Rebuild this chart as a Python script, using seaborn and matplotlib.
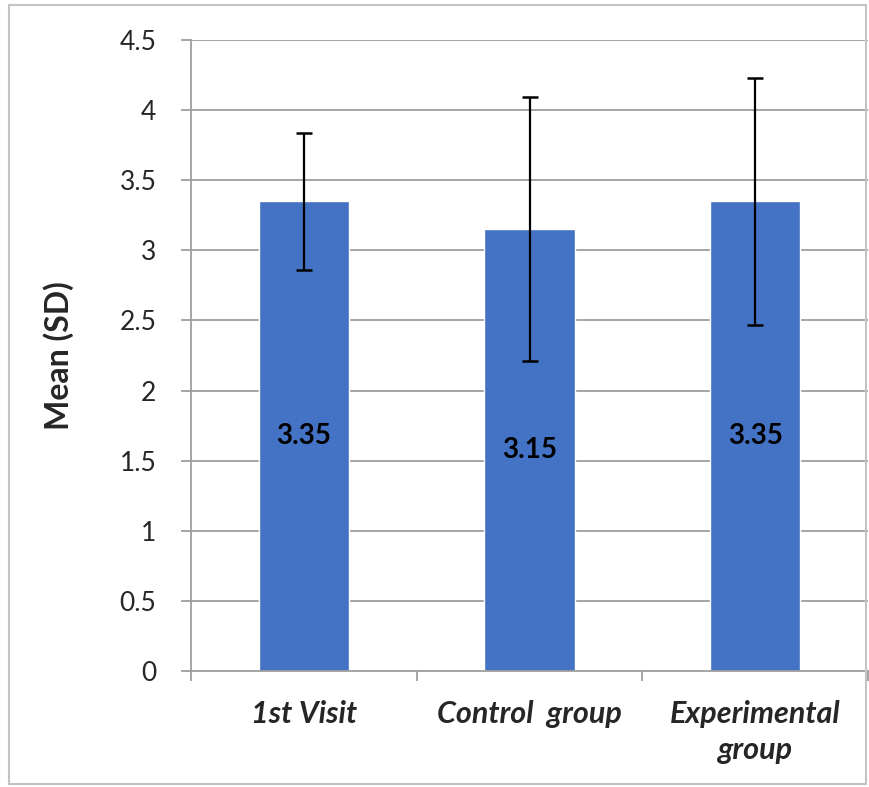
import matplotlib
matplotlib.use("Agg")
import matplotlib.pyplot as plt
import seaborn as sns
import numpy as np
import pandas as pd
from matplotlib.patches import Rectangle

groups = ["1st Visit", "Control  group", "Experimental\ngroup"]
means = [3.35, 3.15, 3.35]
sds = [0.49, 0.94, 0.88]
value_labels = ["3.35", "3.15", "3.35"]
yticks = [0, 0.5, 1, 1.5, 2, 2.5, 3, 3.5, 4, 4.5]
ytick_labels = ["0", "0.5", "1", "1.5", "2", "2.5", "3", "3.5", "4", "4.5"]

df = pd.DataFrame({"group": groups, "mean": means, "sd": sds})

sns.set_theme(style="white")
plt.rcParams["font.family"] = ["Lato", "DejaVu Sans"]

W, H = 869, 787
fig = plt.figure(figsize=(W / 100, H / 100), dpi=100)
ax = fig.add_axes([191 / W, 1 - 671 / H, 677 / W, 631 / H])

grid_c = "#9e9e9e"
ax.set_axisbelow(True)
for y in yticks[1:]:
    ax.axhline(y, color=grid_c, lw=1.3, zorder=0)

sns.barplot(data=df, x="group", y="mean", color="#4472C4", saturation=1,
            width=0.4, errorbar=None, ax=ax, zorder=2)

pos = np.arange(len(groups))
ax.errorbar(pos, df["mean"], yerr=df["sd"], fmt="none", ecolor="black",
            elinewidth=1.6, capsize=5.5, capthick=1.8, zorder=3)

ax.bar_label(ax.containers[0], labels=value_labels, label_type="center",
             fontsize=20, fontweight="bold", color="black")

ax.set_ylim(0, 4.5)
ax.set_xlim(-0.5, 2.5)
ax.set_yticks(yticks)
ax.set_yticklabels(ytick_labels, fontsize=19)
ax.tick_params(axis="y", length=7, width=1.3, color=grid_c, pad=18, left=True)

ax.set_xticks(pos)
ax.set_xticklabels(groups, fontsize=22, fontweight="bold", fontstyle="italic",
                   linespacing=1.35)
ax.tick_params(axis="x", which="major", length=0, pad=21)
ax.set_xticks([-0.5, 0.5, 1.5, 2.5], minor=True)
ax.tick_params(axis="x", which="minor", length=7, width=1.3, color=grid_c,
               bottom=True)
for lbl in ax.get_xticklabels():
    lbl.set_verticalalignment("top")

for s in ["top", "right"]:
    ax.spines[s].set_visible(False)
for s in ["left", "bottom"]:
    ax.spines[s].set_color(grid_c)
    ax.spines[s].set_linewidth(1.3)

ax.set_xlabel("")
ax.set_ylabel("Mean (SD)", fontsize=23, fontweight="bold")
ax.yaxis.set_label_coords((74 - 191) / 677, 0.5)

fig.patches.append(Rectangle((9 / W, 1 - 784 / H), (866 - 9) / W, (784 - 5) / H,
                             transform=fig.transFigure, fill=False,
                             edgecolor="#c4c4c4", lw=1.5))

fig.savefig("out.png", dpi=100)
